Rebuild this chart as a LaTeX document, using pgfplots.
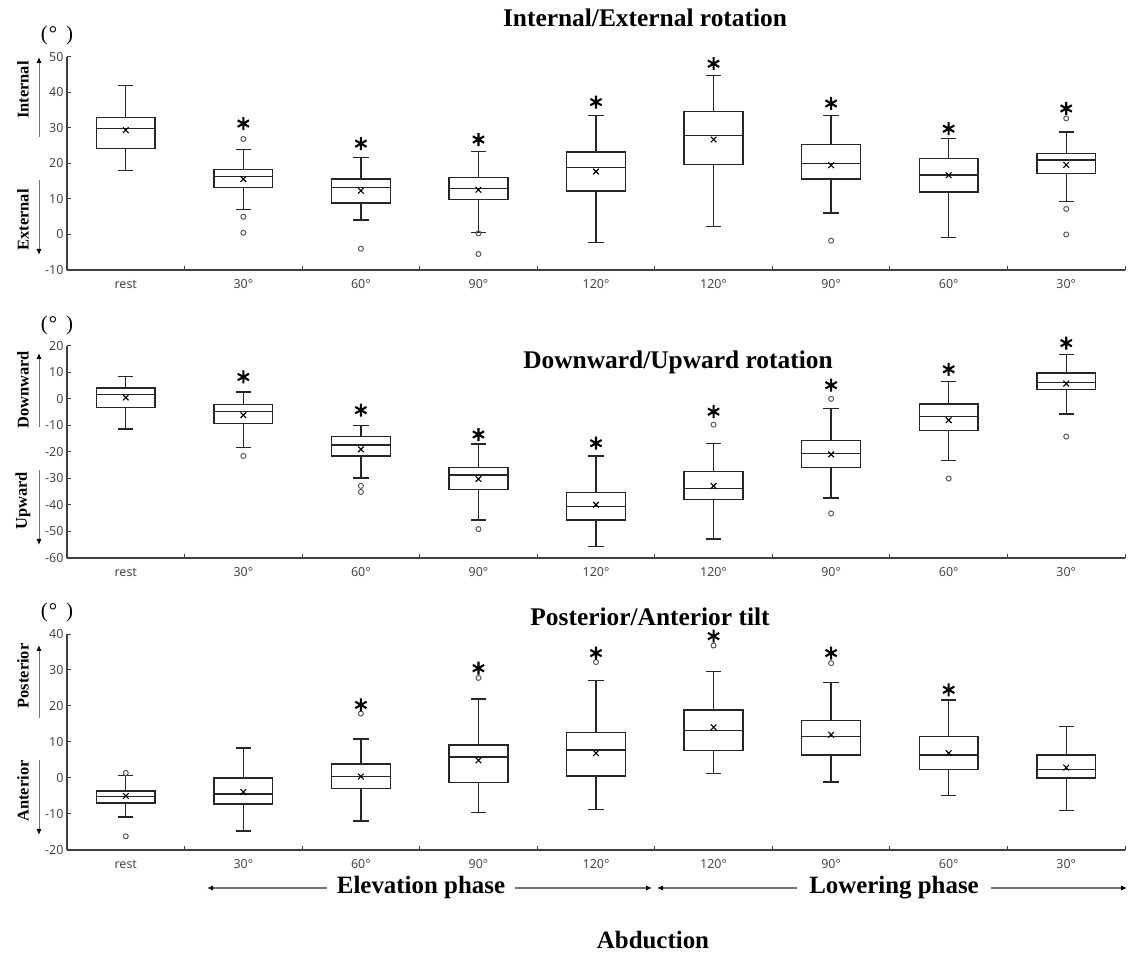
\documentclass[border=0pt]{standalone}
\usepackage{fontspec}
\setmainfont{Liberation Serif}
\newfontfamily\tickfont{Noto Sans}
\usepackage{pgfplots}
\pgfplotsset{compat=1.18}
\usepgfplotslibrary{statistics}
\usetikzlibrary{arrows.meta}

\newcommand{\bx}[6]{\addplot[bxs, boxplot prepared={draw position=#1, lower whisker=#2, lower quartile=#3, median=#4, upper quartile=#5, upper whisker=#6}] coordinates {};}

\pgfplotsset{
  panel/.style={
    scale only axis, width=1058bp, anchor=south west,
    xmin=0.5, xmax=9.5,
    axis lines*=left,
    axis line style={black!75, line width=1.2bp},
    xtick={1,...,9},
    xticklabels={rest,30°,60°,90°,120°,120°,90°,60°,30°},
    major x tick style={draw=none},
    minor xtick={1.5,2.5,...,9.5},
    minor tick length=3.5bp,
    major tick length=3.5bp,
    minor x tick style={black!75, line width=1bp},
    major y tick style={black!75, line width=1bp},
    tick align=inside,
    tick label style={font=\tickfont\fontsize{12.5}{13}\selectfont, text=black!72},
    xticklabel style={text height=9bp, text depth=2bp, yshift=-6bp},
    /pgf/number format/assume math mode=true,
    clip=false,
    boxplot/draw direction=y,
    boxplot/box extend=0.5,
    boxplot/whisker extend=0.13,
  },
  bxs/.style={black!85, line width=1.4bp, solid},
  meanst/.style={only marks, mark=x, mark size=4bp, black, mark options={line width=1.1bp}},
  outst/.style={only marks, mark=o, mark size=2.5bp, black!65, mark options={line width=1bp}},
  starst/.style={only marks, mark=asterisk, mark size=6.5bp, black, mark options={line width=2.1bp}},
}

\begin{document}
\begin{tikzpicture}
\useasboundingbox (0,0) rectangle (1133bp,962bp);

% ---------------- Panel 1: Internal/External rotation
\begin{axis}[panel, at={(67bp,692bp)}, height=213bp, ymin=-10, ymax=50, ytick={-10,0,...,50}]
\bx{1}{18.1}{24.2}{29.9}{32.9}{42.0}
\bx{2}{7.1}{13.3}{16.4}{18.3}{24.0}
\bx{3}{4.1}{8.9}{13.3}{15.6}{21.7}
\bx{4}{0.5}{9.8}{12.9}{16.0}{23.3}
\bx{5}{-2.3}{12.3}{18.8}{23.2}{33.6}
\bx{6}{2.3}{19.7}{27.9}{34.7}{44.8}
\bx{7}{6.0}{15.6}{20.0}{25.4}{33.6}
\bx{8}{-0.8}{12.0}{16.8}{21.4}{27.1}
\bx{9}{9.3}{17.1}{21.0}{22.8}{28.9}
\addplot[meanst] coordinates {(1,29.4) (2,15.6) (3,12.3) (4,12.6) (5,17.75) (6,26.75) (7,19.5) (8,16.7) (9,19.6)};
\addplot[outst] coordinates {(2,26.9) (2,5.0) (2,0.5) (3,-4.0) (4,0.3) (4,-5.5) (7,-1.75) (9,32.7) (9,7.2) (9,0.0)};
\addplot[starst] coordinates {(2,31.25) (3,25.6) (4,26.75) (5,37.3) (6,48.1) (7,36.9) (8,29.8) (9,35.5)};
\end{axis}

% ---------------- Panel 2: Downward/Upward rotation
\begin{axis}[panel, at={(67bp,404bp)}, height=212bp, ymin=-60, ymax=20, ytick={-60,-50,...,20}]
\bx{1}{-11.35}{-3.1}{1.8}{4.2}{8.6}
\bx{2}{-18.4}{-9.2}{-4.7}{-2.1}{2.6}
\bx{3}{-29.8}{-21.5}{-17.4}{-14.2}{-10.0}
\bx{4}{-45.6}{-34.2}{-28.7}{-25.8}{-17.0}
\bx{5}{-55.6}{-45.7}{-40.6}{-35.2}{-21.5}
\bx{6}{-52.9}{-37.9}{-33.7}{-27.4}{-16.7}
\bx{7}{-37.4}{-25.8}{-20.6}{-15.7}{-3.6}
\bx{8}{-23.3}{-11.9}{-6.7}{-1.9}{6.5}
\bx{9}{-5.7}{3.6}{6.3}{9.8}{16.7}
\addplot[meanst] coordinates {(1,0.56) (2,-6.1) (3,-19.0) (4,-30.2) (5,-39.9) (6,-32.8) (7,-20.9) (8,-8.0) (9,5.8)};
\addplot[outst] coordinates {(2,-21.5) (3,-32.8) (3,-35.1) (4,-49.1) (6,-9.7) (7,0.06) (7,-43.2) (8,-30.0) (9,-14.2)};
\addplot[starst] coordinates {(2,8.3) (3,-4.2) (4,-13.4) (5,-16.7) (6,-4.8) (7,5.2) (8,11.2) (9,21.1)};
\end{axis}

% ---------------- Panel 3: Posterior/Anterior tilt
\begin{axis}[panel, at={(67bp,112bp)}, height=216bp, ymin=-20, ymax=40, ytick={-20,-10,...,40}]
\bx{1}{-10.8}{-7.0}{-5.2}{-3.6}{0.7}
\bx{2}{-14.7}{-7.2}{-4.4}{0.0}{8.3}
\bx{3}{-11.9}{-2.9}{0.4}{3.9}{10.8}
\bx{4}{-9.6}{-1.2}{5.8}{9.2}{21.9}
\bx{5}{-8.8}{0.6}{7.8}{12.65}{27.0}
\bx{6}{1.3}{7.7}{13.2}{18.9}{29.6}
\bx{7}{-1.1}{6.35}{11.6}{15.9}{26.6}
\bx{8}{-4.8}{2.3}{6.4}{11.45}{21.7}
\bx{9}{-9.0}{0.0}{2.4}{6.4}{14.3}
\addplot[meanst] coordinates {(1,-5.0) (2,-3.9) (3,0.4) (4,4.9) (5,6.9) (6,14.1) (7,12.0) (8,6.9) (9,2.9)};
\addplot[outst] coordinates {(1,1.4) (1,-16.2) (3,17.9) (4,27.8) (5,32.2) (6,36.8) (7,31.9)};
\addplot[starst] coordinates {(3,20.3) (4,30.5) (5,34.7) (6,39.4) (7,34.7) (8,24.5)};
\end{axis}

% ---------------- Titles
\node[font=\bfseries\fontsize{25.5}{26}\selectfont] at (645bp,944bp) {Internal/External rotation};
\node[font=\bfseries\fontsize{25.5}{26}\selectfont] at (678bp,600bp) {Downward/Upward rotation};
\node[font=\bfseries\fontsize{25.5}{26}\selectfont] at (650bp,345bp) {Posterior/Anterior tilt};

% ---------------- Degree units
\foreach \yy in {927,637,350}{
  \node[font=\fontsize{21}{21}\selectfont] at (57bp,\yy bp) {(\kern1bp°\kern9bp)};
}

% ---------------- Direction labels and arrows
\tikzset{dirlab/.style={rotate=90, font=\bfseries\fontsize{16.5}{16.5}\selectfont},
         dirarr/.style={black!55, line width=1bp, -{Latex[length=6bp,width=5bp,color=black]}}}
\node[dirlab] at (23bp,872bp) {Internal};
\node[dirlab] at (23bp,742bp) {External};
\draw[dirarr] (39bp,825bp) -- (39bp,905bp);
\draw[dirarr] (39bp,782bp) -- (39bp,707bp);

\node[dirlab] at (23bp,572bp) {Downward};
\node[dirlab] at (23bp,461bp) {Upward};
\draw[dirarr] (39bp,535bp) -- (39bp,609bp);
\draw[dirarr] (39bp,492bp) -- (39bp,417bp);

\node[dirlab] at (23bp,286bp) {Posterior};
\node[dirlab] at (23bp,171bp) {Anterior};
\draw[dirarr] (39bp,244bp) -- (39bp,317bp);
\draw[dirarr] (39bp,202bp) -- (39bp,127bp);

% ---------------- Bottom annotation
\node[font=\bfseries\fontsize{25}{25}\selectfont] at (421bp,74bp) {Elevation phase};
\node[font=\bfseries\fontsize{25}{25}\selectfont] at (894bp,74bp) {Lowering phase};
\node[font=\bfseries\fontsize{25}{25}\selectfont] at (653bp,22bp) {Abduction};
\tikzset{pharr/.style={black!55, line width=1.1bp, -{Latex[length=6bp,width=5bp,color=black]}}}
\draw[pharr] (327bp,74bp) -- (207bp,74bp);
\draw[pharr] (515bp,74bp) -- (652bp,74bp);
\draw[pharr] (797bp,74bp) -- (657bp,74bp);
\draw[pharr] (991bp,74bp) -- (1127bp,74bp);
\end{tikzpicture}
\end{document}
